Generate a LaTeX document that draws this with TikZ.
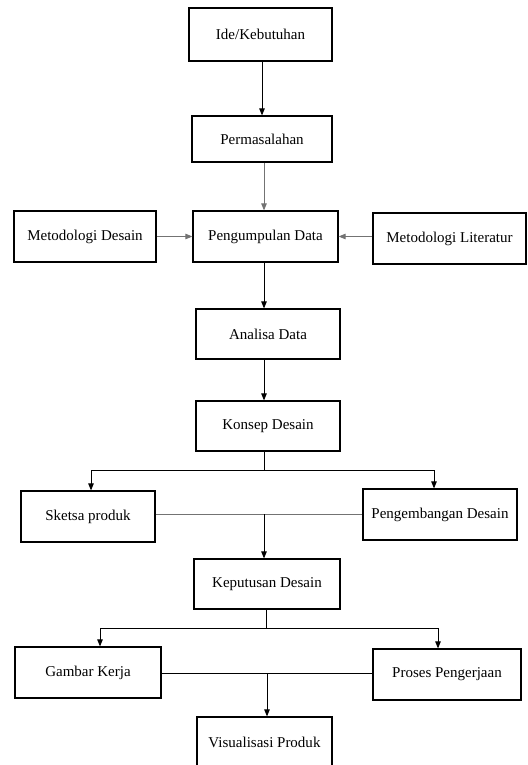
\documentclass[tikz,border=0pt]{standalone}
\usepackage{fontspec}
\setmainfont{Liberation Serif}
\usepackage{tikz}
\usetikzlibrary{
    arrows,
    arrows.meta,
    calc,
    positioning
}

\tikzset{
    blok/.style={draw, line width=1.2pt, minimum height=51pt, inner sep=2pt,
        font=\fontsize{15}{18}\selectfont},
    panah/.style={-{Triangle[length=7pt, width=5.5pt]}, line width=0.9pt},
    garis/.style={line width=0.9pt},
    abu/.style={draw=black!55}
}

\begin{document}
\begin{tikzpicture}[x=1pt, y=-1pt]
                        \useasboundingbox (0, 0) rectangle (527, 765);
                        \clip (0, 0) rectangle (527, 765);
                        \node[blok, minimum width=143pt, minimum height=53pt] (ide) at (260.5, 34.5) {Ide/Kebutuhan};
                        \node[blok, minimum width=140pt, minimum height=46pt] (masalah) at (262, 139) {Permasalahan};
                        \node[blok, minimum width=145pt] (kumpul) at (265.5, 236.5) {Pengumpulan Data};
                        \node[blok, minimum width=142pt] (metdes) at (85, 236.5) {Metodologi Desain};
                        \node[blok, minimum width=153pt] (metlit) at (449.5, 238.5) {Metodologi Literatur};
                        \node[blok, minimum width=144pt, minimum height=50pt] (analisa) at (268, 334) {Analisa Data};
                        \node[blok, minimum width=144pt, minimum height=50pt] (konsep) at (268, 426) {Konsep Desain};
                        \node[blok, minimum width=134pt] (sketsa) at (88, 516.5) {Sketsa produk};
                        \node[blok, minimum width=154pt] (kembang) at (440, 514.5) {Pengembangan Desain};
                        \node[blok, minimum width=146pt, minimum height=50pt] (putus) at (267, 584) {Keputusan Desain};
                        \node[blok, minimum width=146pt] (gambar) at (88, 672.5) {Gambar Kerja};
                        \node[blok, minimum width=148pt] (proses) at (447, 674.5) {Proses Pengerjaan};
                        \node[blok, minimum width=135pt] (visual) at (264.5, 742.5) {Visualisasi Produk};
                        % alur utama
                        \coordinate (c1) at (262, 0);
                        \coordinate (c2) at (264, 0);
                        \draw[panah] (c1 |- ide.south) -- (c1 |- masalah.north);
                        \draw[panah, abu] (c2 |- masalah.south) -- (c2 |- kumpul.north);
                        \draw[panah, abu] (metdes.east) -- (kumpul.west |- metdes.east);
                        \draw[panah, abu] (metlit.west |- kumpul.east) -- (kumpul.east);
                        \draw[panah] (c2 |- kumpul.south) -- (c2 |- analisa.north);
                        \draw[panah] (c2 |- analisa.south) -- (c2 |- konsep.north);
                        % cabang konsep
                        \coordinate (b1) at (264, 470);
                        \coordinate (kiri1) at (91, 470);
                        \coordinate (kanan1) at (434, 470);
                        \draw[garis] (c2 |- konsep.south) -- (b1);
                        \draw[panah] (b1) -- (kiri1) -- (kiri1 |- sketsa.north);
                        \draw[panah] (b1) -- (kanan1) -- (kanan1 |- kembang.north);
                        \coordinate (g1) at (264, 514);
                        \draw[garis, abu] (sketsa.east |- g1) -- (kembang.west |- g1);
                        \draw[panah] (g1) -- (g1 |- putus.north);
                        % cabang keputusan
                        \coordinate (b2) at (266, 628);
                        \coordinate (kiri2) at (100, 628);
                        \coordinate (kanan2) at (438, 628);
                        \draw[garis] (b2 |- putus.south) -- (b2);
                        \draw[panah] (b2) -- (kiri2) -- (kiri2 |- gambar.north);
                        \draw[panah] (b2) -- (kanan2) -- (kanan2 |- proses.north);
                        \coordinate (g2) at (267, 673);
                        \draw[garis] (gambar.east |- g2) -- (proses.west |- g2);
                        \draw[panah] (g2) -- (g2 |- visual.north);
                    \end{tikzpicture}
\end{document}
